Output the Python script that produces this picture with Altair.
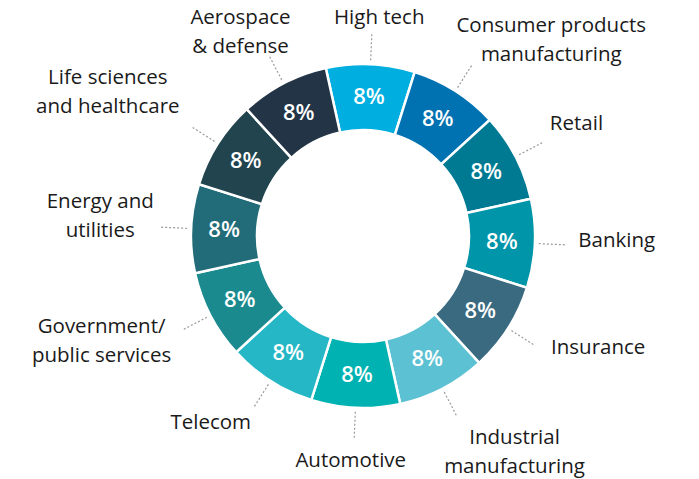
import math
import altair as alt
import pandas as pd

# ---- data ----
categories = [
    "High tech",
    "Consumer products\nmanufacturing",
    "Retail",
    "Banking",
    "Insurance",
    "Industrial\nmanufacturing",
    "Automotive",
    "Telecom",
    "Government/\npublic services",
    "Energy and\nutilities",
    "Life sciences\nand healthcare",
    "Aerospace\n& defense",
]
shares = [8, 8, 8, 8, 8, 8, 8, 8, 8, 8, 8, 8]
colors = [
    "#00AEE0", "#0072B2", "#007A93", "#0095A9", "#3A6A80", "#5CC1D3",
    "#00B2B1", "#25B7C6", "#1A8A8E", "#226B78", "#21444F", "#223446",
]

# ---- layout (not data) ----
CX, CY = 355, 228
R_IN, R_OUT = 106, 172
R_PCT = 139
R_LEAD0, R_LEAD1 = 176, 204
R_LABEL = 235
OFFSET = math.radians(-12.5)
LINE_H = 29
# per-label nudges (dx, dy) from the radial anchor (block centre)
label_nudge = [
    (6, 17), (62, 3), (5, -3), (19, -5), (37, -14), (43, 8),
    (-2, -10), (-26, -11), (-53, -3), (-28, -9), (-57, -17), (-14, 5),
]
FONT = "Open Sans"

df = pd.DataFrame({"category": categories, "value": shares, "idx": list(range(len(categories)))})
base = alt.Chart(df)

theta_scale = alt.Scale(range=[OFFSET, OFFSET + 2 * math.pi])
theta = alt.Theta("value:Q", stack=True, scale=theta_scale)
color = alt.Color("category:N", scale=alt.Scale(domain=categories, range=colors), legend=None)
order = alt.Order("idx:Q")

arcs = base.mark_arc(innerRadius=R_IN, outerRadius=R_OUT, stroke="white", strokeWidth=2.5).encode(
    theta=theta, color=color, order=order,
    x=alt.value(CX), y=alt.value(CY),
)

pct = base.transform_calculate(pct="round(datum.value) + '%'").mark_text(
    radius=R_PCT, font=FONT, fontSize=22, fontWeight=600, color="white"
).encode(
    theta=theta, text="pct:N", order=order,
    x=alt.value(CX), y=alt.value(CY),
)

geo = base.transform_joinaggregate(total="sum(value)").transform_window(
    cum="sum(value)", frame=[None, 0]
).transform_calculate(
    mid=f"{OFFSET} + 2*PI*(datum.cum - datum.value/2)/datum.total"
).transform_calculate(
    x0=f"{CX} + {R_LEAD0}*sin(datum.mid)",
    y0=f"{CY} - {R_LEAD0}*cos(datum.mid)",
    x1=f"{CX} + {R_LEAD1}*sin(datum.mid)",
    y1=f"{CY} - {R_LEAD1}*cos(datum.mid)",
    lx=f"{CX} + {R_LABEL}*sin(datum.mid)",
    ly=f"{CY} - {R_LABEL}*cos(datum.mid)",
)

leaders = geo.mark_rule(color="#9A9A9A", strokeWidth=1.2, strokeDash=[2, 2]).encode(
    x=alt.X("x0:Q", scale=None), y=alt.Y("y0:Q", scale=None),
    x2="x1:Q", y2="y1:Q",
)

label_layers = []
for cat, (ndx, ndy) in zip(categories, label_nudge):
    n_lines = cat.count("\n") + 1
    shift = -(n_lines - 1) * LINE_H / 2
    lbl = geo.transform_filter(alt.datum.category == cat).mark_text(
        font=FONT, fontSize=20.5, color="#1A1A1A", align="center", baseline="middle",
        lineBreak="\n", lineHeight=LINE_H, dx=ndx, dy=ndy + shift,
    ).encode(
        x=alt.X("lx:Q", scale=None), y=alt.Y("ly:Q", scale=None), text="category:N",
    )
    label_layers.append(lbl)

chart = alt.layer(arcs, pct, leaders, *label_layers).properties(
    width=683, height=471, padding=0, autosize="none"
).configure_view(stroke=None)

chart.save("out.html", embed_options={"renderer": "svg", "actions": False})
